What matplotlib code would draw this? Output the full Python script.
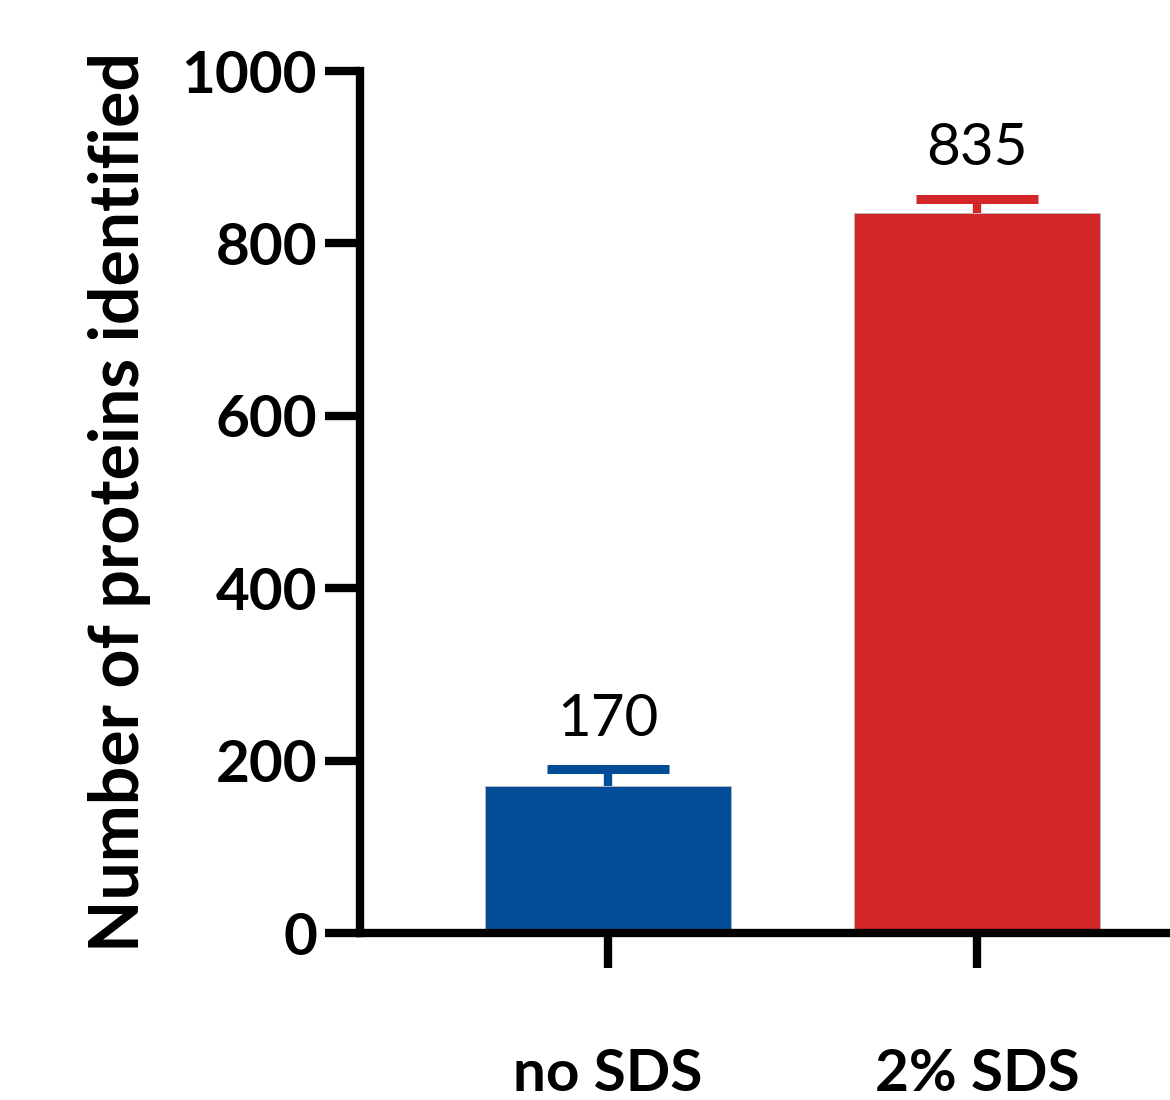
import numpy as np
import matplotlib.pyplot as plt

plt.rcParams['font.family'] = ['Lato', 'DejaVu Sans']

groups = ['no SDS', '2% SDS']
counts = [170, 835]
errors = [20, 17]
colors = ['#034c97', '#d32628']
yticks = [0, 200, 400, 600, 800, 1000]

fig = plt.figure(figsize=(11.7, 11), dpi=100)
ax = fig.add_axes([0.3077, 0.1518, 0.6923, 0.7836])

x = np.arange(len(groups))
ax.bar(x, counts, width=0.667, color=colors, edgecolor='#bbbbbb', linewidth=0.6, zorder=2)
cap = 0.165
for xi, c, e, col in zip(x, counts, errors, colors):
    # upper whisker only, with a flat cap
    ax.vlines(xi, c, c + e, color=col, linewidth=6, zorder=1)
    ax.hlines(c + e, xi - cap, xi + cap, color=col, linewidth=6.5, zorder=1)
    ax.text(xi, c + e + 27, str(c), ha='center', va='bottom', fontsize=42)

ax.set_xlim(-0.672, 1.523)
ax.set_ylim(0, 1000)
ax.set_yticks(yticks)
ax.set_xticks(x)
ax.set_xticklabels(groups, fontsize=42, fontweight='bold')
ax.set_yticklabels([str(t) for t in yticks], fontsize=42, fontweight='bold')
ax.set_ylabel('Number of proteins identified', fontsize=49, fontweight='bold', labelpad=22)

for side in ['top', 'right']:
    ax.spines[side].set_visible(False)
for side in ['left', 'bottom']:
    ax.spines[side].set_linewidth(6)
ax.tick_params(axis='both', length=25, width=6, direction='out')
ax.tick_params(axis='y', pad=6)
ax.tick_params(axis='x', pad=58)

fig.savefig('out.png', dpi=100)
